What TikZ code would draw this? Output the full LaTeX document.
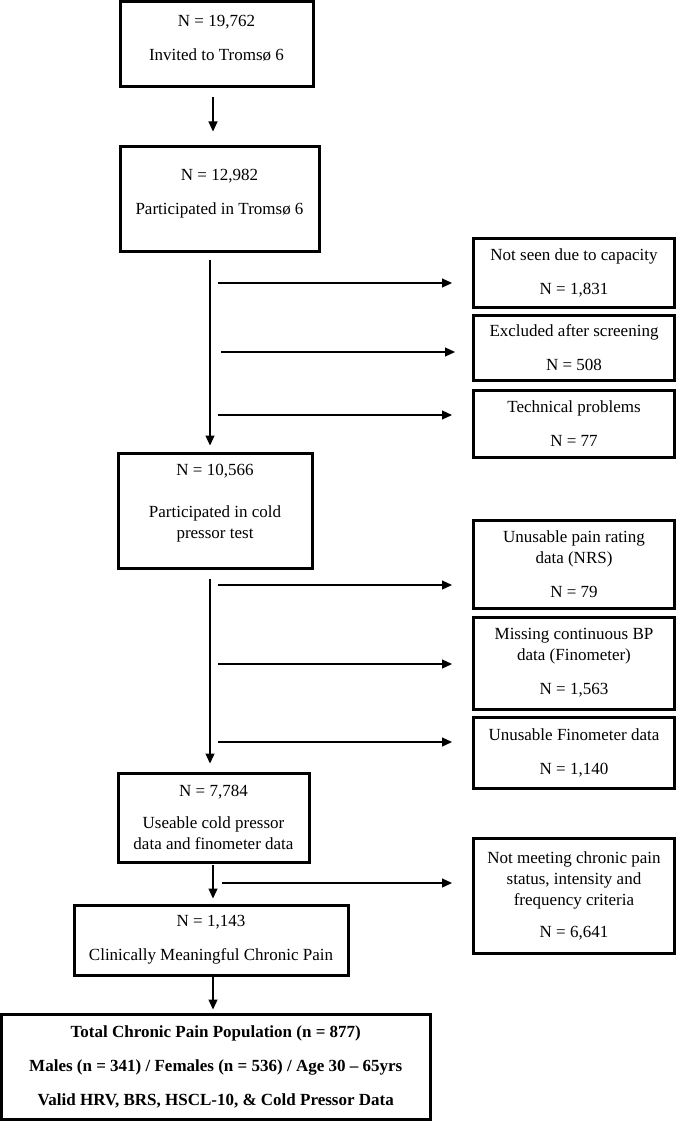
\documentclass[tikz,border=0pt]{standalone}
\usepackage{fontspec}
\setmainfont{Liberation Serif}
\usetikzlibrary{arrows.meta}
\tikzset{
  box/.style={draw, line width=3pt, align=center, inner sep=0pt, font=\fontsize{17}{21}\selectfont},
  arr/.style={line width=1.2pt, -{Triangle[length=10pt,width=9pt]}},
}
\newcommand{\flowbox}[7][]{\node[box,#1, minimum width=#5pt, minimum height=#6pt] (#2) at (#3,#4) {#7};}
\newcommand{\dropdepth}[1]{\rule[-#1pt]{0pt}{0pt}}

\begin{document}
\begin{tikzpicture}[x=1pt,y=-1pt]
\useasboundingbox (0,0) rectangle (676,1121);
%boxes
\flowbox{invited}{216.5}{44}{193}{85}{N = 19,762\\[13pt]Invited to Tromsø 6\dropdepth{12}}
\flowbox{part}{219.5}{198.5}{199}{105}{N = 12,982\\[13pt]Participated in Tromsø 6\dropdepth{13}}
\flowbox{coldtest}{215}{510.5}{194}{115}{N = 10,566\\[21pt]Participated in cold\\pressor test\dropdepth{18}}
\flowbox{useable}{213.5}{817.5}{191}{89}{N = 7,784\\[11pt]Useable cold pressor\\data and finometer data}
\flowbox{clinical}{211}{940}{274}{70}{N = 1,143\\[13pt]Clinically Meaningful Chronic Pain}
\flowbox[font=\fontsize{17}{21}\selectfont\bfseries]{total}{215.75}{1066.75}{428.5}{105.5}{Total Chronic Pain Population (n = 877)\\[13pt]Males (n = 341) / Females (n = 536) / Age 30 – 65yrs\\[13pt]Valid HRV, BRS, HSCL-10, \& Cold Pressor Data}
%excluded
\flowbox{capacity}{574}{272.5}{201}{69}{Not seen due to capacity\\[13pt]N = 1,831}
\flowbox{screening}{574}{347.5}{201}{65}{Excluded after screening\\[13pt]N = 508}
\flowbox{technical}{574}{423.5}{201}{67}{Technical problems\\[13pt]N = 77}
\flowbox{nrs}{574}{564}{201}{88}{Unusable pain rating\\data (NRS)\\[13pt]N = 79}
\flowbox{finobp}{574}{663}{201}{92}{Missing continuous BP\\data (Finometer)\\[13pt]N = 1,563}
\flowbox{finodata}{574}{752.5}{201}{71}{Unusable Finometer data\\[13pt]N = 1,140}
\flowbox{criteria}{574}{895.5}{201}{115}{Not meeting chronic pain\\status, intensity and\\frequency criteria\\[11pt]N = 6,641}
%spines
\coordinate (sx) at (213,0);
\coordinate (lx) at (210,0);
\coordinate (h1) at (218,283);
\coordinate (h2) at (221,352);
\coordinate (h3) at (218,415);
\coordinate (h4) at (218,585);
\coordinate (h5) at (218,664);
\coordinate (h6) at (218,742);
\coordinate (h7) at (222,883);
%arrows
\draw[arr, shorten <=9pt, shorten >=13pt] (invited.south -| sx) -- (part.north -| sx);
\draw[arr, shorten <=7pt, shorten >=6pt] (part.south -| lx) -- (coldtest.north -| lx);
\draw[arr, shorten <=9pt, shorten >=8pt] (coldtest.south -| lx) -- (useable.north -| lx);
\draw[arr, shorten <=1pt, shorten >=5pt] (useable.south -| sx) -- (clinical.north -| sx);
\draw[arr, shorten >=3pt] (clinical.south -| sx) -- (total.north -| sx);
\draw[arr, shorten >=20pt] (h1) -- (h1 -| capacity.west);
\draw[arr, shorten >=17pt] (h2) -- (h2 -| screening.west);
\draw[arr, shorten >=20pt] (h3) -- (h3 -| technical.west);
\draw[arr, shorten >=20pt] (h4) -- (h4 -| nrs.west);
\draw[arr, shorten >=20pt] (h5) -- (h5 -| finobp.west);
\draw[arr, shorten >=20pt] (h6) -- (h6 -| finodata.west);
\draw[arr, shorten >=20pt] (h7) -- (h7 -| criteria.west);
\end{tikzpicture}
\end{document}
